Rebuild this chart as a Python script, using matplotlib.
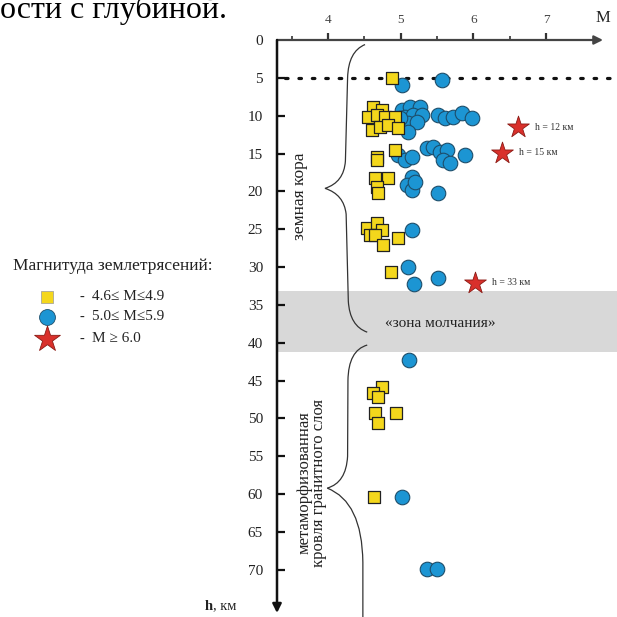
import matplotlib
matplotlib.use('Agg')
import matplotlib.pyplot as plt
from matplotlib.path import Path
from matplotlib.patches import PathPatch

plt.rcParams['font.family'] = ['Liberation Serif', 'DejaVu Serif', 'DejaVu Sans']

# magnitude 4.6-4.9 events (M, depth km)
m_low = [4.88, 4.62, 4.74, 4.55, 4.67, 4.78, 4.92, 4.61, 4.72, 4.83, 4.96,
         4.92, 4.67, 4.68, 4.65, 4.83, 4.67, 4.69,
         4.54, 4.67, 4.74, 4.58, 4.65, 4.76, 4.96, 4.87,
         4.74, 4.62, 4.69, 4.65, 4.94, 4.69, 4.63]
h_low = [5.0, 8.9, 9.3, 10.2, 9.9, 10.2, 10.2, 11.9, 11.5, 11.2, 11.6,
         14.5, 15.5, 15.9, 18.2, 18.2, 19.4, 20.2,
         24.8, 24.2, 25.1, 25.8, 25.8, 27.1, 26.2, 30.6,
         45.8, 46.6, 47.2, 49.3, 49.3, 50.6, 60.4]

# magnitude 5.0-5.9 events
m_mid = [5.02, 5.57,
         5.02, 5.13, 5.27, 5.06, 5.17, 5.29, 5.10, 5.22, 5.10, 4.99,
         5.51, 5.61, 5.72, 5.84, 5.98,
         4.96, 5.06, 5.16, 5.36, 5.44, 5.54, 5.64, 5.58, 5.68, 5.88,
         5.16, 5.09, 5.16, 5.20, 5.51,
         5.16, 5.10, 5.18, 5.51, 5.11, 5.02, 5.36, 5.50]
h_mid = [5.9, 5.3,
         9.25, 8.85, 8.85, 10.2, 9.9, 9.9, 11.0, 10.8, 12.2, 10.3,
         9.9, 10.3, 10.2, 9.7, 10.3,
         15.2, 15.9, 15.5, 14.3, 14.1, 14.8, 14.5, 15.9, 16.2, 15.2,
         18.1, 19.2, 19.8, 18.8, 20.2,
         25.1, 30.0, 32.2, 31.4, 42.3, 60.4, 69.9, 69.9]

# M >= 6.0 events
m_big = [6.61, 6.39, 6.02]
h_big = [11.5, 14.9, 32.1]
big_labels = ['h = 12 км', 'h = 15 км', 'h = 33 км']

silent_zone = (33.2, 41.2)
dotted_depth = 5

YELLOW = '#f4d71c'
BLUE = '#1c95d3'
RED = '#d9302b'
INK = '#222222'

fig = plt.figure(figsize=(6.17, 6.17), dpi=100)

# overlay in pixel coords for caption and legend
lax = fig.add_axes([0, 0, 1, 1], zorder=0)
lax.set_xlim(0, 617)
lax.set_ylim(617, 0)
lax.axis('off')

ax = fig.add_axes([277 / 617, 4 / 617, 326 / 617, 573 / 617], zorder=1)
ax.patch.set_visible(False)
ax.set_xlim(3.30, 7.78)
ax.set_ylim(75.7, 0)
for s in ax.spines.values():
    s.set_visible(False)

# axes with arrows
ax.annotate('', xy=(1.0, 1.0), xytext=(0.0, 1.0), xycoords='axes fraction',
            arrowprops=dict(arrowstyle='-|>', lw=1.6, color='#444444',
                            mutation_scale=13, shrinkA=0, shrinkB=0))
ax.annotate('', xy=(0.0, 0.0), xytext=(0.0, 1.0), xycoords='axes fraction',
            arrowprops=dict(arrowstyle='-|>', lw=1.8, color='#111111',
                            mutation_scale=13, shrinkA=0, shrinkB=0))

ax.xaxis.tick_top()
ax.set_xticks([4, 5, 6, 7])
ax.set_xticks([3.5, 4.5, 5.5, 6.5], minor=True)
ax.tick_params(axis='x', which='major', direction='out', length=5, width=1.6,
               color='#333333', labelsize=9.5, labelcolor='#444444', pad=5)
ax.tick_params(axis='x', which='minor', direction='out', length=3, width=1.2,
               color='#333333')
ax.set_yticks(range(0, 75, 5))
ax.tick_params(axis='y', direction='in', length=6, width=1.6, color='#111111',
               labelsize=11, labelcolor=INK, pad=10)
ax.yaxis.get_major_ticks()[0].tick1line.set_visible(False)

# silent zone and 5 km line
ax.axhspan(*silent_zone, xmin=0.003, xmax=1.043, clip_on=False,
           color='#d8d8d8', lw=0, zorder=0)
ax.axhline(dotted_depth, xmin=0.025, xmax=1.04, clip_on=False, color='#111111',
           lw=2.3, ls=(0, (0.8, 3.4)), dash_capstyle='round', zorder=1)

# braces
upper = Path([(4.51, 0.6), (4.28, 1.5), (4.27, 5), (4.24, 16), (4.22, 18.8),
              (3.96, 19.6), (4.22, 20.4), (4.25, 23), (4.28, 34.5),
              (4.30, 37.8), (4.54, 38.6)],
             [Path.MOVETO, Path.CURVE3, Path.CURVE3, Path.LINETO,
              Path.CURVE3, Path.CURVE3, Path.CURVE3, Path.CURVE3,
              Path.LINETO, Path.CURVE3, Path.CURVE3])
lower = Path([(4.54, 40.3), (4.28, 41), (4.275, 45), (4.27, 55), (4.25, 58.5),
              (3.99, 59.2), (4.47, 61), (4.48, 69), (4.48, 76.5)],
             [Path.MOVETO, Path.CURVE3, Path.CURVE3, Path.LINETO,
              Path.CURVE3, Path.CURVE3, Path.CURVE3, Path.CURVE3,
              Path.LINETO])
for p in (upper, lower):
    ax.add_patch(PathPatch(p, fc='none', ec='#333333', lw=0.9, clip_on=False,
                           zorder=2))

ax.text(3.615, 20.6, 'земная кора', rotation=90, ha='center', va='center',
        fontsize=12.5, color=INK)
ax.text(3.78, 58.5, 'метаморфизованная\nкровля гранитного слоя', rotation=90,
        ha='center', va='center', fontsize=12, color=INK, linespacing=0.9,
        multialignment='center')
ax.text(5.54, 37.4, '«зона молчания»', ha='center', va='center',
        fontsize=11, color=INK)

# events
ax.scatter(m_mid, h_mid, s=110, marker='o', c=BLUE, edgecolors='#1d4d6a',
           linewidths=0.8, zorder=3, clip_on=False)
ax.scatter(m_low, h_low, s=70, marker='s', c=YELLOW, edgecolors='#222222',
           linewidths=0.9, zorder=4, clip_on=False)
ax.scatter(m_big, h_big, s=270, marker='*', c=RED, edgecolors='#8a1a14',
           linewidths=0.6, zorder=5, clip_on=False)
for m, h, lab in zip(m_big, h_big, big_labels):
    ax.annotate(lab, (m, h), xytext=(12, 0), textcoords='offset points',
                ha='left', va='center', fontsize=7, color='#333333')

# axis titles
lax.text(603, 18, 'M', ha='center', va='center', fontsize=12, color=INK)
lax.text(205, 606, 'h', ha='left', va='center', fontsize=10.5,
         fontweight='bold', color=INK)
lax.text(213, 606, ', км', ha='left', va='center', fontsize=10.5, color=INK)

# cut-off caption above the figure
lax.text(0, 18, 'ости с глубиной.', ha='left', va='baseline', fontsize=23,
         color='black')

# legend
lax.text(13, 266, 'Магнитуда землетрясений:', ha='left', va='center',
         fontsize=12.5, color=INK)
leg_y = [297, 317, 339]
lax.scatter([47], [leg_y[0]], s=70, marker='s', c=YELLOW, edgecolors='#999999',
            linewidths=0.5)
lax.scatter([47], [leg_y[1]], s=130, marker='o', c=BLUE, edgecolors='#1d4d6a',
            linewidths=0.6)
lax.scatter([47], [leg_y[2]], s=380, marker='*', c=RED, edgecolors='#8a1a14',
            linewidths=0.6)
leg_text = ['4.6≤ M≤4.9', '5.0≤ M≤5.9', 'M ≥ 6.0']
for y, t in zip(leg_y, leg_text):
    lax.text(79, y, '-', ha='left', va='center', fontsize=10.5, color=INK)
    lax.text(92, y, t, ha='left', va='center', fontsize=11, color=INK)

fig.savefig('out.png', dpi=100)
